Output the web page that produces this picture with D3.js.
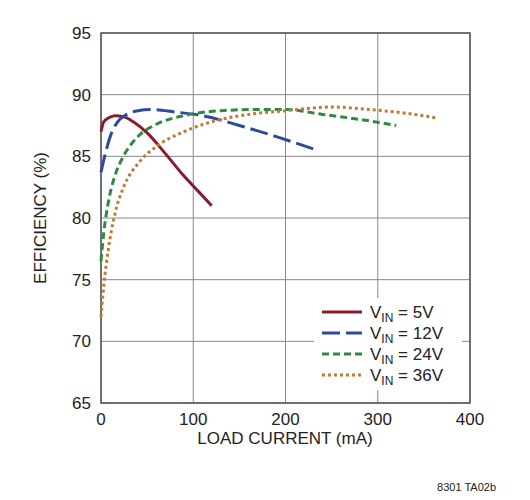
<!DOCTYPE html>
<html><head><meta charset="utf-8">
<script src="https://cdn.jsdelivr.net/npm/d3@7"></script>
<style>body{margin:0;background:#fff}text{font-family:"Liberation Sans Narrow","Arial Narrow","Liberation Sans",sans-serif}</style>
</head><body><svg id="c" width="530" height="500"></svg>
<script>
const xTicks = [0, 100, 200, 300, 400];
const yTicks = [65, 70, 75, 80, 85, 90, 95];
const v5 = [[0,87],[3,87.8],[8,88.1],[15,88.3],[25,88.2],[35,87.8],[50,86.9],[70,85.2],[90,83.4],[105,82.2],[120,81]];
const v12 = [[0,83.7],[5,85.3],[10,86.6],[18,87.8],[28,88.4],[40,88.7],[55,88.8],[80,88.6],[110,88.3],[150,87.5],[190,86.6],[230,85.6]];
const v24 = [[0,76.5],[3,78.8],[8,81.3],[15,83.4],[25,85.1],[40,86.6],[60,87.6],[90,88.3],[130,88.7],[170,88.8],[200,88.8],[240,88.4],[280,88],[320,87.5]];
const v36 = [[0,72],[3,74.5],[8,77.5],[15,80.3],[25,82.6],[40,84.4],[60,85.8],[90,87],[120,87.8],[160,88.4],[200,88.7],[250,89],[290,88.8],[330,88.5],[365,88.1]];
const series = [
  {v:"5V", d:v5, c:"#8b1a2b", dash:null, w:3},
  {v:"12V", d:v12, c:"#2e4a9e", dash:"18,6", w:3},
  {v:"24V", d:v24, c:"#2e8a3e", dash:"7,4", w:3},
  {v:"36V", d:v36, c:"#c07a35", dash:"3,3", w:3}
];
const svg = d3.select("#c");
const x = d3.scaleLinear().domain([0,400]).range([101,470]);
const y = d3.scaleLinear().domain([65,95]).range([403,33]);
const g = svg.append("g");
g.selectAll(".gx").data(xTicks).join("line").attr("x1",x).attr("x2",x).attr("y1",y(65)).attr("y2",y(95)).attr("stroke","#888").attr("stroke-width",1);
g.selectAll(".gy").data(yTicks).join("line").attr("y1",y).attr("y2",y).attr("x1",x(0)).attr("x2",x(400)).attr("stroke","#888").attr("stroke-width",1);
g.append("rect").attr("x",x(0)).attr("y",y(95)).attr("width",x(400)-x(0)).attr("height",y(65)-y(95)).attr("fill","none").attr("stroke","#555").attr("stroke-width",1.5);
g.selectAll(".tx").data(xTicks).join("text").attr("x",x).attr("y",y(65)+22).attr("text-anchor","middle").attr("font-size",17).attr("fill","#222").text(d=>d);
g.selectAll(".ty").data(yTicks).join("text").attr("x",x(0)-10).attr("y",d=>y(d)+6).attr("text-anchor","end").attr("font-size",17).attr("fill","#222").text(d=>d);
svg.append("text").attr("x",285).attr("y",444).attr("text-anchor","middle").attr("font-size",17).attr("fill","#222").text("LOAD CURRENT (mA)");
svg.append("text").attr("transform","translate(46,218) rotate(-90)").attr("text-anchor","middle").attr("font-size",17).attr("fill","#222").text("EFFICIENCY (%)");
svg.append("text").attr("x",496).attr("y",491).attr("text-anchor","end").attr("font-size",11).attr("fill","#222").text("8301 TA02b");
const line = d3.line().x(d=>x(d[0])).y(d=>y(d[1])).curve(d3.curveMonotoneX);
series.forEach(s=>{
  g.append("path").attr("d",line(s.d)).attr("fill","none").attr("stroke",s.c).attr("stroke-width",s.w).attr("stroke-dasharray",s.dash);
});
const lg = svg.append("g");
lg.append("rect").attr("x",314).attr("y",298).attr("width",148).attr("height",92).attr("fill","#fff");
series.forEach((s,i)=>{
  const yy = 312 + i*21;
  lg.append("line").attr("x1",322).attr("x2",362).attr("y1",yy).attr("y2",yy).attr("stroke",s.c).attr("stroke-width",3).attr("stroke-dasharray",s.dash);
  const t = lg.append("text").attr("x",370).attr("y",yy+6).attr("font-size",17).attr("fill","#222");
  t.append("tspan").text("V");
  t.append("tspan").attr("font-size",12).attr("dy",4).text("IN");
  t.append("tspan").attr("dy",-4).text(" = "+s.v);
});
</script></body></html>
